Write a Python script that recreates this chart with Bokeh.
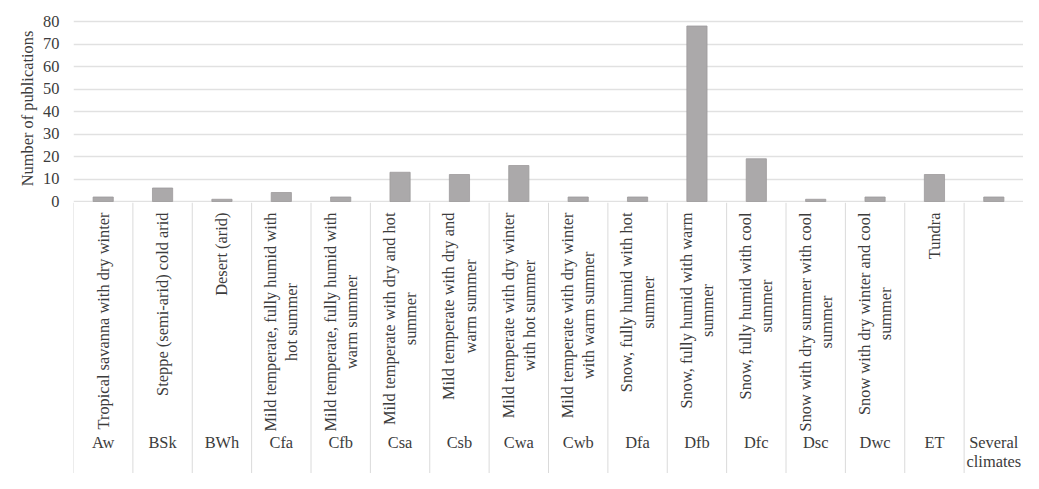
import math
from bokeh.plotting import figure
from bokeh.layouts import column, row
from bokeh.models import FactorRange, Range1d, ColumnDataSource
from bokeh.core.properties import value
from bokeh.embed import file_html
from bokeh.resources import INLINE

codes = ["Aw", "BSk", "BWh", "Cfa", "Cfb", "Csa", "Csb", "Cwa", "Cwb", "Dfa",
         "Dfb", "Dfc", "Dsc", "Dwc", "ET", "Several\nclimates"]
descriptions = [
    "Tropical savanna with dry winter",
    "Steppe (semi-arid) cold arid",
    "Desert (arid)",
    "Mild temperate, fully humid with\nhot summer",
    "Mild temperate, fully humid with\nwarm summer",
    "Mild temperate with dry and hot\nsummer",
    "Mild temperate with dry and\nwarm summer",
    "Mild temperate with dry winter\nwith hot summer",
    "Mild temperate with dry winter\nwith warm summer",
    "Snow, fully humid with hot\nsummer",
    "Snow, fully humid with warm\nsummer",
    "Snow, fully humid with cool\nsummer",
    "Snow with dry summer with cool\nsummer",
    "Snow with dry winter and cool\nsummer",
    "Tundra",
    "",
]
publications = [2, 6, 1, 4, 2, 13, 12, 16, 2, 2, 78, 19, 1, 2, 12, 2]
y_ticks = [0, 10, 20, 30, 40, 50, 60, 70, 80]
y_tick_labels = [str(t) for t in y_ticks]
y_title = "Number of publications"

FONT = "Liberation Serif"
TEXT_COLOR = "#3c3c3c"
FS = "16.4px"
GRID = "#e1e1e1"


def bare(fig):
    fig.outline_line_color = None
    fig.axis.visible = False
    fig.grid.grid_line_color = None


xr = FactorRange(factors=codes, range_padding=0)
src = ColumnDataSource(dict(code=codes, n=publications, desc=descriptions))

# ---- left: y tick labels and title ----------------------------------------
ly = Range1d(-120.89, 89.33)
left = figure(width=73, height=473, output_backend="svg", toolbar_location=None,
              x_range=Range1d(0, 1), y_range=ly,
              min_border_left=0, min_border_right=0, min_border_top=0, min_border_bottom=0)
bare(left)
left.text(x=[1] * len(y_ticks), y=y_ticks, text=y_tick_labels, x_offset=-14,
          text_align="right", text_baseline="middle", text_font=value(FONT),
          text_font_size=FS, text_color=TEXT_COLOR)
left.text(x=[0], y=[(y_ticks[0] + y_ticks[-1]) / 2], text=[y_title], x_offset=27, y_offset=-3,
          angle=math.pi / 2, text_align="center", text_baseline="middle",
          text_font=value(FONT), text_font_size=FS, text_color=TEXT_COLOR)

# ---- top: bars ---------------------------------------------------------------
p = figure(width=950, height=202, output_backend="svg", toolbar_location=None,
           x_range=xr, y_range=Range1d(-0.444, 85.78),
           min_border_left=0, min_border_right=0, min_border_top=8, min_border_bottom=0)
bare(p)
p.hspan(y=y_ticks, line_color=GRID, line_width=1.3)
p.vbar(x="code", top="n", width=0.34, source=src,
       fill_color="#aba9aa", line_color="#9d9b9c", line_width=0.8)

# ---- bottom: category labels -----------------------------------------------
q = figure(width=950, height=271, output_backend="svg", toolbar_location=None,
           x_range=xr, y_range=Range1d(0, 1),
           min_border_left=0, min_border_right=0, min_border_top=0, min_border_bottom=0)
bare(q)
sep_x = [(c, -0.5) for c in codes] + [(codes[-1], 0.5)]
q.segment(x0=sep_x, y0=[1] * len(sep_x), x1=sep_x, y1=[0] * len(sep_x),
          line_color="#dadada", line_width=1)

q.text(x="code", y=1, text="desc", source=src, angle=math.pi / 2,
       anchor=value("center_right"), text_align="center", text_baseline="middle",
       y_offset=10, text_font=value(FONT), text_font_size=FS,
       text_line_height=1.12, text_color=TEXT_COLOR)

q.text(x="code", y=1, text="code", source=src,
       anchor=value("top_center"), text_align="center", text_baseline="top",
       y_offset=230, text_font=value(FONT), text_font_size=FS,
       text_line_height=1.0, text_color=TEXT_COLOR)

layout = row(left, column(p, q, spacing=0), spacing=0)
open("out.html", "w").write(file_html(layout, INLINE))
